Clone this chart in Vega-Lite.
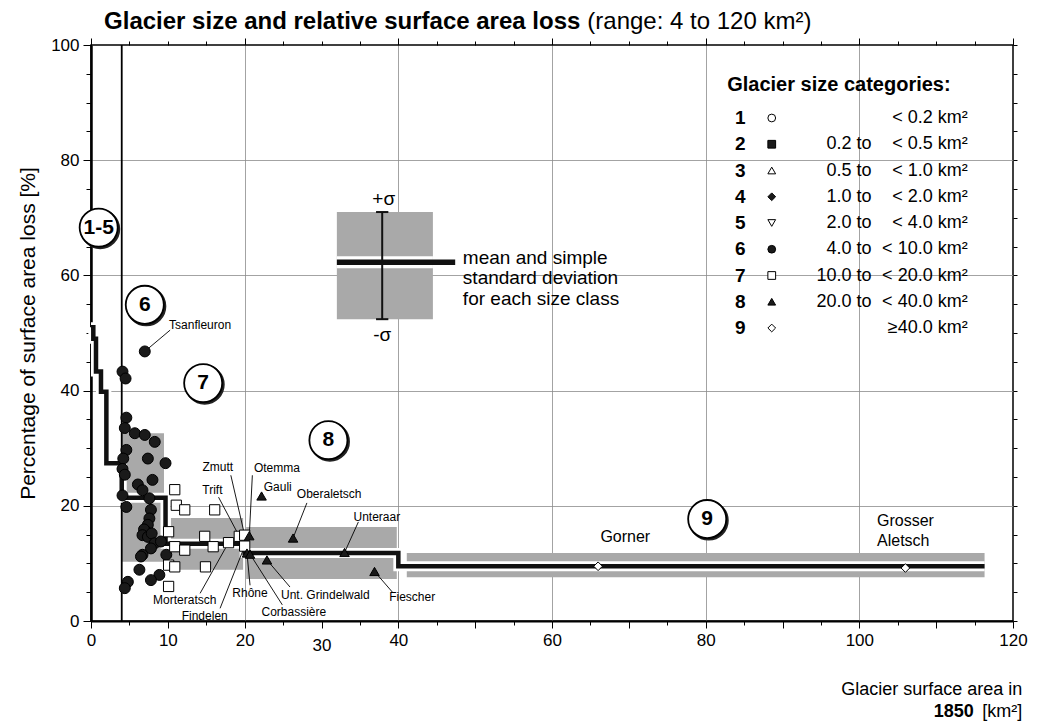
{
"$schema":"https://vega.github.io/schema/vega-lite/v6.json",
"width":922,"height":576,"autosize":"none",
"padding":{"left":91,"top":45,"right":31,"bottom":103},
"background":"white",
"config":{"font":"Liberation Sans","view":{"stroke":"black","strokeWidth":1.5},
 "axis":{"domainColor":"black","tickColor":"black","labelColor":"black","titleColor":"black","gridColor":"#8c8c8c","gridWidth":0.8}},
"datasets":{
 "classes":[
  {"cls":6,"xmin":4.0,"xmax":9.5,"lo":10.3,"hi":32.6},
  {"cls":7,"xmin":10.4,"xmax":19.8,"lo":8.9,"hi":17.9},
  {"cls":8,"xmin":20.2,"xmax":39.8,"lo":7.3,"hi":16.3},
  {"cls":9,"xmin":41.1,"xmax":116.3,"lo":7.6,"hi":11.8}],
 "means":[
  {"area":0,"mean":51.0},{"area":0.3,"mean":49.0},{"area":0.65,"mean":43.3},{"area":1.3,"mean":39.8},
  {"area":2.0,"mean":27.4},{"area":4.0,"mean":21.4},{"area":9.7,"mean":13.4},{"area":20.0,"mean":11.8},
  {"area":40.0,"mean":9.5},{"area":116.3,"mean":9.5}],
 "glaciers":[
  {"cls":6,"area":4.1,"loss":43.3},{"cls":6,"area":4.5,"loss":42.1},{"cls":6,"area":7.0,"loss":46.8},
  {"cls":6,"area":4.6,"loss":35.3},{"cls":6,"area":4.4,"loss":33.5},{"cls":6,"area":5.7,"loss":32.6},
  {"cls":6,"area":7.0,"loss":32.3},{"cls":6,"area":8.3,"loss":31.1},{"cls":6,"area":4.6,"loss":29.7},
  {"cls":6,"area":4.2,"loss":28.2},{"cls":6,"area":7.4,"loss":28.2},{"cls":6,"area":9.7,"loss":27.4},
  {"cls":6,"area":4.1,"loss":26.4},{"cls":6,"area":4.4,"loss":25.4},{"cls":6,"area":8.0,"loss":24.5},
  {"cls":6,"area":6.1,"loss":23.7},{"cls":6,"area":6.7,"loss":22.7},{"cls":6,"area":4.1,"loss":21.8},
  {"cls":6,"area":7.6,"loss":21.3},{"cls":6,"area":4.6,"loss":19.8},{"cls":6,"area":7.8,"loss":19.3},
  {"cls":6,"area":7.6,"loss":17.8},{"cls":6,"area":7.4,"loss":16.7},{"cls":6,"area":7.2,"loss":15.5},
  {"cls":6,"area":6.9,"loss":15.9},{"cls":6,"area":6.7,"loss":14.9},{"cls":6,"area":7.4,"loss":14.6},
  {"cls":6,"area":7.9,"loss":15.2},{"cls":6,"area":8.3,"loss":13.5},{"cls":6,"area":9.1,"loss":13.8},
  {"cls":6,"area":7.8,"loss":12.6},{"cls":6,"area":6.7,"loss":11.5},{"cls":6,"area":9.8,"loss":11.5},
  {"cls":6,"area":6.5,"loss":11.2},{"cls":6,"area":6.3,"loss":8.9},{"cls":6,"area":8.9,"loss":8.0},
  {"cls":6,"area":7.8,"loss":7.1},{"cls":6,"area":4.8,"loss":6.8},{"cls":6,"area":4.4,"loss":5.7},
  {"cls":7,"area":10.9,"loss":22.8},{"cls":7,"area":11.1,"loss":20.1},{"cls":7,"area":12.2,"loss":19.3},
  {"cls":7,"area":16.1,"loss":19.3},{"cls":7,"area":10.1,"loss":15.5},{"cls":7,"area":14.8,"loss":14.7},
  {"cls":7,"area":19.3,"loss":14.7},{"cls":7,"area":20.0,"loss":14.9},{"cls":7,"area":10.9,"loss":12.9},
  {"cls":7,"area":12.2,"loss":12.3},{"cls":7,"area":15.9,"loss":12.9},{"cls":7,"area":17.9,"loss":13.6},
  {"cls":7,"area":20.0,"loss":13.0},{"cls":7,"area":10.1,"loss":9.7},{"cls":7,"area":10.9,"loss":9.4},
  {"cls":7,"area":14.9,"loss":9.4},{"cls":7,"area":10.1,"loss":6.0},
  {"cls":8,"area":22.2,"loss":21.7},{"cls":8,"area":20.6,"loss":14.8},{"cls":8,"area":26.3,"loss":14.4},
  {"cls":8,"area":20.3,"loss":11.8},{"cls":8,"area":20.7,"loss":11.6},{"cls":8,"area":22.9,"loss":10.6},
  {"cls":8,"area":33.0,"loss":11.9},{"cls":8,"area":36.9,"loss":8.6},
  {"cls":9,"area":66.0,"loss":9.5},{"cls":9,"area":106.0,"loss":9.2}],
 "labels":[
  {"name":"Tsanfleuron","area":7.0,"loss":46.8,"tx":14.2,"ty":51.4,"ax":10.3,"ay":50.5},
  {"name":"Zmutt","area":20.0,"loss":14.9,"tx":16.5,"ty":26.7,"ax":18.2,"ay":25.3},
  {"name":"Trift","area":19.3,"loss":14.7,"tx":15.8,"ty":22.7,"ax":16.6,"ay":21.5},
  {"name":"Otemma","area":20.6,"loss":14.8,"tx":24.2,"ty":26.6,"ax":21.0,"ay":25.3},
  {"name":"Gauli","area":22.2,"loss":21.7,"tx":24.3,"ty":23.3},
  {"name":"Oberaletsch","area":26.3,"loss":14.4,"tx":31.0,"ty":22.0,"ax":28.1,"ay":20.5},
  {"name":"Unteraar","area":33.0,"loss":11.9,"tx":37.2,"ty":18.1,"ax":34.8,"ay":17.2},
  {"name":"Unt. Grindelwald","area":22.9,"loss":10.6,"tx":30.5,"ty":4.5,"ax":25.9,"ay":5.9},
  {"name":"Rhône","area":20.3,"loss":11.8,"tx":20.7,"ty":4.9,"ax":20.7,"ay":6.2},
  {"name":"Corbassière","area":20.7,"loss":11.6,"tx":26.4,"ty":1.6,"ax":24.9,"ay":2.8},
  {"name":"Fiescher","area":36.9,"loss":8.6,"tx":41.8,"ty":4.2,"ax":39.3,"ay":4.9},
  {"name":"Morteratsch","area":17.9,"loss":13.6,"tx":12.2,"ty":3.7,"ax":14.2,"ay":4.8},
  {"name":"Findelen","area":20.0,"loss":13.0,"tx":14.8,"ty":0.9,"ax":16.8,"ay":2.2}],
 "bigLabels":[
  {"text":"Gorner","x":66.3,"y":14.6},{"text":"Grosser","x":102.3,"y":17.4},{"text":"Aletsch","x":102.3,"y":13.9}],
 "classLabels":[
  {"label":"1-5","x":1.0,"y":68.3},{"label":"6","x":7.0,"y":54.9},{"label":"7","x":14.6,"y":41.3},
  {"label":"8","x":30.9,"y":31.4},{"label":"9","x":80.2,"y":17.7}],
 "legend":[
  {"cat":1,"from":"","to":"< 0.2 km²"},{"cat":2,"from":"0.2 to","to":"< 0.5 km²"},
  {"cat":3,"from":"0.5 to","to":"< 1.0 km²"},{"cat":4,"from":"1.0 to","to":"< 2.0 km²"},
  {"cat":5,"from":"2.0 to","to":"< 4.0 km²"},{"cat":6,"from":"4.0 to","to":"< 10.0 km²"},
  {"cat":7,"from":"10.0 to","to":"< 20.0 km²"},{"cat":8,"from":"20.0 to","to":"< 40.0 km²"},
  {"cat":9,"from":"","to":"≥40.0 km²"}]
},
"layer":[
 {"resolve":{"axis":{"x":"independent","y":"independent"}},
  "layer":[
   {"data":{"name":"classes"},"mark":{"type":"rect","fill":"#a9a9a9"},
    "encoding":{
     "x":{"field":"xmin","type":"quantitative","scale":{"domain":[0,120],"nice":false,"zero":false},
      "axis":{"orient":"bottom","title":null,"values":[0,5,10,15,20,25,30,35,40,45,50,55,60,65,70,75,80,85,90,95,100,105,110,115,120],
       "labelExpr":"indexof([0,10,20,30,40,60,80,100,120], datum.value) >= 0 ? datum.label : ''",
       "labelFontSize":17,"labelFlush":false,"labelOverlap":false,
       "labelPadding":{"condition":{"test":"datum.value === 30","value":9},"value":4},
       "tickSize":{"condition":{"test":"datum.value % 10 === 0","value":7},"value":4},
       "domainWidth":2,"grid":true,
       "gridOpacity":{"condition":{"test":"indexof([20,40,60,80,100], datum.value) >= 0","value":1},"value":0}}},
     "x2":{"field":"xmax"},
     "y":{"field":"lo","type":"quantitative","scale":{"domain":[0,100],"nice":false},
      "axis":{"orient":"left","title":"Percentage of surface area loss [%]","titleFontSize":21,"titleFontWeight":"normal","titlePadding":12,
       "values":[0,5,10,15,20,25,30,35,40,45,50,55,60,65,70,75,80,85,90,95,100],
       "labelExpr":"datum.value % 20 === 0 ? datum.label : ''","labelFontSize":17,"labelPadding":4,"labelOverlap":false,"labelFlush":false,
       "tickSize":{"condition":{"test":"datum.value % 20 === 0","value":8},"value":5},
       "domainWidth":2.5,"grid":true,
       "gridOpacity":{"condition":{"test":"indexof([20,40,60,80], datum.value) >= 0","value":1},"value":0}}},
     "y2":{"field":"hi"}}},
   {"data":{"values":[{}]},"mark":{"type":"rect","fill":"#a9a9a9"},
    "encoding":{
     "x":{"datum":32.0,"type":"quantitative",
      "axis":{"orient":"top","title":null,"labels":false,"grid":false,"domain":false,
       "values":[0,5,10,15,20,25,30,35,40,45,50,55,60,65,70,75,80,85,90,95,100,105,110,115,120],
       "tickSize":{"condition":{"test":"datum.value % 20 === 0","value":7},"value":4}}},
     "x2":{"datum":44.5},
     "y":{"datum":52.4,"type":"quantitative",
      "axis":{"orient":"right","title":null,"labels":false,"grid":false,"domain":false,
       "values":[0,5,10,15,20,25,30,35,40,45,50,55,60,65,70,75,80,85,90,95,100],"tickSize":4}},
     "y2":{"datum":71.0}}},
   {"data":{"values":[{}]},"mark":{"type":"rule","stroke":"black","strokeWidth":1.8},
    "encoding":{"x":{"datum":4,"type":"quantitative","axis":null},"y":{"datum":0,"type":"quantitative","axis":null},"y2":{"datum":100}}},
   {"data":{"name":"means"},"mark":{"type":"line","interpolate":"step-after","stroke":"white","strokeWidth":10},
    "encoding":{"x":{"field":"area","type":"quantitative","axis":null},"y":{"field":"mean","type":"quantitative","axis":null}}},
   {"data":{"name":"means"},"mark":{"type":"line","interpolate":"step-after","stroke":"#111111","strokeWidth":4.5},
    "encoding":{"x":{"field":"area","type":"quantitative","axis":null},"y":{"field":"mean","type":"quantitative","axis":null}}},
   {"data":{"values":[{}]},"mark":{"type":"rule","stroke":"white","strokeWidth":12},
    "encoding":{"x":{"datum":32.0,"type":"quantitative","axis":null},"x2":{"datum":44.5},"y":{"datum":62.3,"type":"quantitative","axis":null}}},
   {"data":{"values":[{}]},"mark":{"type":"rule","stroke":"#111111","strokeWidth":2},
    "encoding":{"x":{"datum":37.9,"type":"quantitative","axis":null},"y":{"datum":52.4,"type":"quantitative","axis":null},"y2":{"datum":71.0}}},
   {"data":{"values":[{}]},"mark":{"type":"rule","stroke":"#111111","strokeWidth":2},
    "encoding":{"x":{"datum":37.1,"type":"quantitative","axis":null},"x2":{"datum":38.7},"y":{"datum":71.0,"type":"quantitative","axis":null}}},
   {"data":{"values":[{}]},"mark":{"type":"rule","stroke":"#111111","strokeWidth":2},
    "encoding":{"x":{"datum":37.1,"type":"quantitative","axis":null},"x2":{"datum":38.7},"y":{"datum":52.4,"type":"quantitative","axis":null}}},
   {"data":{"values":[{}]},"mark":{"type":"rule","stroke":"#111111","strokeWidth":5.5},
    "encoding":{"x":{"datum":32.0,"type":"quantitative","axis":null},"x2":{"datum":47.4},"y":{"datum":62.3,"type":"quantitative","axis":null}}},
   {"data":{"name":"labels"},"transform":[{"filter":"isValid(datum.ax)"}],"mark":{"type":"rule","stroke":"black","strokeWidth":0.9},
    "encoding":{"x":{"field":"ax","type":"quantitative","axis":null},"y":{"field":"ay","type":"quantitative","axis":null},"x2":{"field":"area"},"y2":{"field":"loss"}}},
   {"data":{"name":"glaciers"},"mark":{"type":"point","filled":true,"stroke":"black","strokeWidth":1,"opacity":1},
    "encoding":{"x":{"field":"area","type":"quantitative","axis":null},"y":{"field":"loss","type":"quantitative","axis":null},
     "shape":{"field":"cls","type":"nominal","legend":null,"scale":{"domain":[1,2,3,4,5,6,7,8,9],"range":["circle","square","triangle-up","diamond","triangle-down","circle","square","triangle-up","diamond"]}},
     "fill":{"field":"cls","type":"nominal","legend":null,"scale":{"domain":[1,2,3,4,5,6,7,8,9],"range":["white","#1a1a1a","white","#1a1a1a","white","#1a1a1a","white","#1a1a1a","white"]}},
     "size":{"field":"cls","type":"ordinal","legend":null,"scale":{"domain":[6,7,8,9],"range":[120,75,70,120]}}}},
   {"data":{"name":"labels"},"mark":{"type":"text","fontSize":12,"align":"center"},
    "encoding":{"x":{"field":"tx","type":"quantitative","axis":null},"y":{"field":"ty","type":"quantitative","axis":null},"text":{"field":"name"}}},
   {"data":{"name":"bigLabels"},"mark":{"type":"text","fontSize":16,"align":"left"},
    "encoding":{"x":{"field":"x","type":"quantitative","axis":null},"y":{"field":"y","type":"quantitative","axis":null},"text":{"field":"text"}}},
   {"data":{"name":"classLabels"},"mark":{"type":"point","shape":"circle","filled":true,"fill":"#222222","stroke":"#222222","strokeWidth":2,"size":1450,"opacity":1,"xOffset":1.5,"yOffset":1.5},
    "encoding":{"x":{"field":"x","type":"quantitative","axis":null},"y":{"field":"y","type":"quantitative","axis":null}}},
   {"data":{"name":"classLabels"},"mark":{"type":"point","shape":"circle","filled":true,"fill":"white","stroke":"black","strokeWidth":1.8,"size":1450,"opacity":1},
    "encoding":{"x":{"field":"x","type":"quantitative","axis":null},"y":{"field":"y","type":"quantitative","axis":null}}},
   {"data":{"name":"classLabels"},"mark":{"type":"text","fontSize":21,"fontWeight":"bold","align":"center"},
    "encoding":{"x":{"field":"x","type":"quantitative","axis":null},"y":{"field":"y","type":"quantitative","axis":null},"text":{"field":"label"}}},
   {"data":{"values":[{}]},"mark":{"type":"text","text":"+σ","fontSize":19,"align":"center"},
    "encoding":{"x":{"datum":38.1,"type":"quantitative","axis":null},"y":{"datum":73.2,"type":"quantitative","axis":null}}},
   {"data":{"values":[{}]},"mark":{"type":"text","text":"-σ","fontSize":19,"align":"center"},
    "encoding":{"x":{"datum":37.9,"type":"quantitative","axis":null},"y":{"datum":49.6,"type":"quantitative","axis":null}}},
   {"data":{"values":[{}]},"mark":{"type":"text","text":["mean and simple","standard deviation","for each size class"],"fontSize":19,"lineHeight":20.5,"align":"left","baseline":"middle"},
    "encoding":{"x":{"datum":48.4,"type":"quantitative","axis":null},"y":{"datum":63.1,"type":"quantitative","axis":null}}},
   {"data":{"values":[{}]},"mark":{"type":"text","text":"Glacier size categories:","fontSize":20,"fontWeight":"bold","align":"left"},
    "encoding":{"x":{"datum":82.8,"type":"quantitative","axis":null},"y":{"datum":93.1,"type":"quantitative","axis":null}}},
   {"data":{"values":[{}]},"mark":{"type":"text","text":"Glacier size and relative surface area loss","fontSize":24,"fontWeight":"bold","align":"left"},
    "encoding":{"x":{"datum":1.7,"type":"quantitative","axis":null},"y":{"datum":104.0,"type":"quantitative","axis":null}}},
   {"data":{"values":[{}]},"mark":{"type":"text","text":"(range: 4 to 120 km²)","fontSize":24,"align":"left"},
    "encoding":{"x":{"datum":64.6,"type":"quantitative","axis":null},"y":{"datum":104.0,"type":"quantitative","axis":null}}},
   {"data":{"values":[{}]},"mark":{"type":"text","text":"Glacier surface area in","fontSize":18,"align":"right"},
    "encoding":{"x":{"datum":121.2,"type":"quantitative","axis":null},"y":{"datum":-12.0,"type":"quantitative","axis":null}}},
   {"data":{"values":[{}]},"mark":{"type":"text","text":"1850","fontSize":18,"fontWeight":"bold","align":"right"},
    "encoding":{"x":{"datum":114.9,"type":"quantitative","axis":null},"y":{"datum":-15.8,"type":"quantitative","axis":null}}},
   {"data":{"values":[{}]},"mark":{"type":"text","text":"[km²]","fontSize":18,"align":"right"},
    "encoding":{"x":{"datum":121.2,"type":"quantitative","axis":null},"y":{"datum":-15.8,"type":"quantitative","axis":null}}}
  ]},
 {"data":{"name":"legend"},
  "encoding":{"y":{"field":"cat","type":"quantitative","scale":{"domain":[1,9],"range":[73,283]},"axis":null}},
  "layer":[
   {"mark":{"type":"text","fontSize":19,"fontWeight":"bold","align":"center"},
    "encoding":{"x":{"datum":84.5,"type":"quantitative","axis":null},"text":{"field":"cat","type":"nominal"}}},
   {"mark":{"type":"point","filled":true,"stroke":"black","strokeWidth":1,"size":60,"opacity":1},
    "encoding":{"x":{"datum":88.6,"type":"quantitative","axis":null},
     "shape":{"field":"cat","type":"nominal","legend":null,"scale":{"domain":[1,2,3,4,5,6,7,8,9],"range":["circle","square","triangle-up","diamond","triangle-down","circle","square","triangle-up","diamond"]}},
     "fill":{"field":"cat","type":"nominal","legend":null,"scale":{"domain":[1,2,3,4,5,6,7,8,9],"range":["white","#1a1a1a","white","#1a1a1a","white","#1a1a1a","white","#1a1a1a","white"]}}}},
   {"mark":{"type":"text","fontSize":18,"align":"right"},
    "encoding":{"x":{"datum":101.6,"type":"quantitative","axis":null},"text":{"field":"from"}}},
   {"mark":{"type":"text","fontSize":18,"align":"right"},
    "encoding":{"x":{"datum":114.1,"type":"quantitative","axis":null},"text":{"field":"to"}}}
  ]}
],
"resolve":{"scale":{"y":"independent"},"axis":{"x":"independent","y":"independent"}}
}
